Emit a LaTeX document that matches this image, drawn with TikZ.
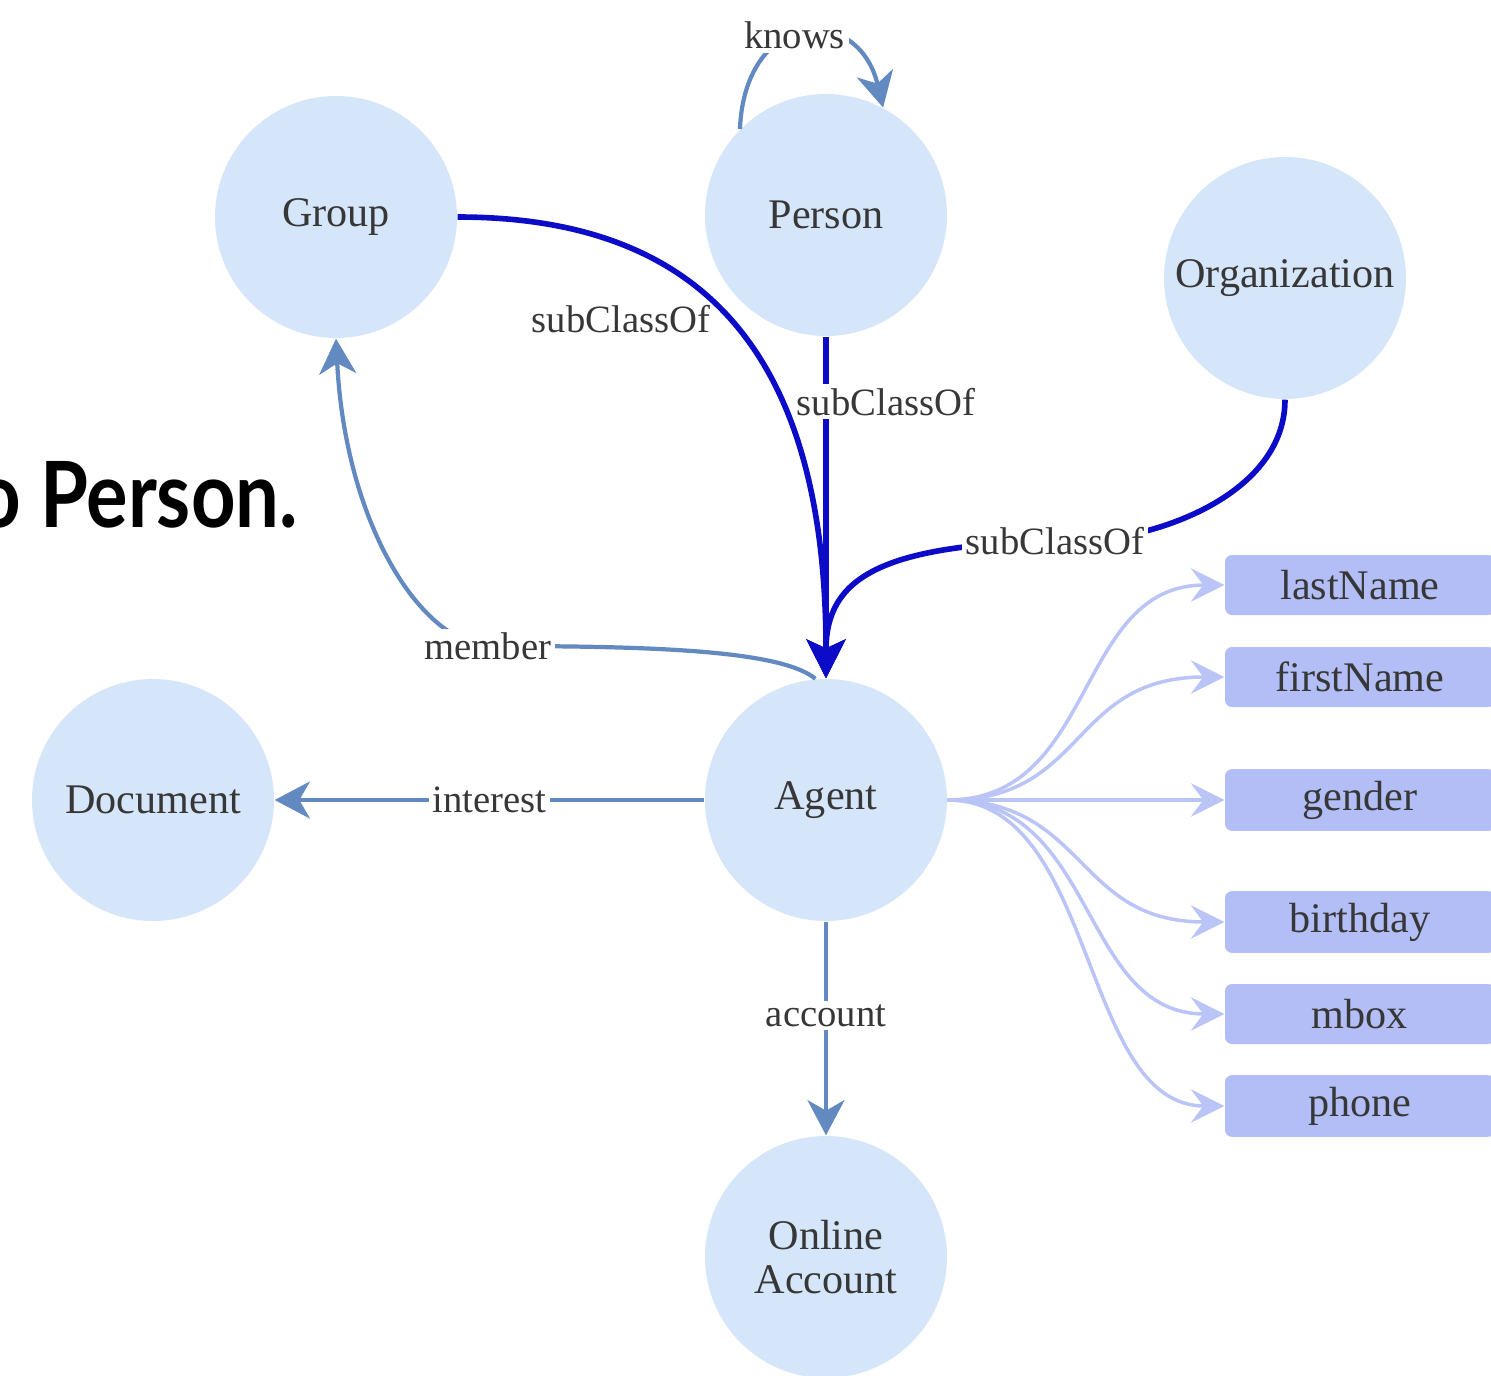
\documentclass[tikz,border=0pt]{standalone}
\usepackage{fontspec}
\setmainfont{Liberation Serif}
\newfontfamily\headfont[FakeStretch=0.85]{Lato}
\usetikzlibrary{arrows.meta, positioning, calc}

\definecolor{classfill}{RGB}{214,230,250}
\definecolor{propfill}{RGB}{178,190,245}
\definecolor{propline}{RGB}{186,196,246}
\definecolor{subblue}{RGB}{12,12,200}
\definecolor{steel}{RGB}{98,138,192}
\definecolor{txtgray}{RGB}{55,55,55}

\begin{document}
\begin{tikzpicture}[
		class/.style={circle, fill=classfill, minimum size=2.42cm, inner sep=0pt, text=txtgray, font=\fontsize{12}{12.5}\selectfont, align=center},
		prop/.style={rectangle, rounded corners=2pt, fill=propfill, minimum width=2.7cm, minimum height=0.6cm, text=txtgray, font=\fontsize{12}{14}\selectfont},
		lbl/.style={text=txtgray, font=\fontsize{11}{13}\selectfont, inner sep=1pt},
		sub/.style={subblue, line width=1.6pt, -{Stealth[length=11pt, width=11pt, inset=2.5pt]}},
		rel/.style={steel, line width=1.2pt, -{Stealth[length=10pt, width=10.5pt, inset=3pt]}},
		has/.style={propline, line width=1pt, -{Stealth[length=9.5pt, width=9.5pt, inset=3.5pt]}}
	]
		
		\useasboundingbox (0,0) rectangle (14.91,-13.76);
		
		% Caption fragment
		\node[font=\headfont\bfseries\fontsize{26}{30}\selectfont, anchor=base west, inner sep=0pt] (caption) at (-0.24,-5.27) {o Person.};
		
		% Classes
		\node[class] (group) at (3.36,-2.17) {Group};
		\node[class] (person) at (8.26,-2.15) {Person};
		\node[class] (organization) at (12.85,-2.78) {Organization};
		\node[class] (agent) at (8.26,-8.00) {Agent};
		\node[class] (document) at (1.53,-8.00) {Document};
		\node[class] (online) at (8.26,-12.57) {Online\\Account};
		
		% Properties
		\foreach \name/\y in {lastName/5.85, firstName/6.77, gender/8.00, birthday/9.22, mbox/10.14, phone/11.06}
		\node[prop] (\name) at (13.6,-\y) {\name};
		
		% Agent to properties
		\foreach \name/\a/\b in {lastName/1.5/1.5, firstName/1.4/1.55, birthday/1.4/1.5, mbox/1.5/1.45, phone/1.5/1.45}
		\draw[has] (agent.east) .. controls +(\a,0) and +(-\b,0) .. (\name.west);
		\draw[has] (agent.east) -- (gender.west);
		
		% subClassOf
		\coordinate (orgbend) at (10.55,-5.41);
		\draw[sub] (group.east) .. controls +(2.4,0) and +(0,3.3) .. node[lbl, pos=0.46, anchor=east, yshift=-0.12cm] {subClassOf} (agent.north);
		\draw[sub] (person.south) -- node[lbl, fill=white, pos=0.19, xshift=0.6cm] {subClassOf} (agent.north);
		\draw[sub] (organization.south) .. controls +(0,-1.0) and +(0.85,-0.06) .. (orgbend) node[lbl, fill=white] {subClassOf} .. controls +(-1.75,-0.04) and +(0,1.0) .. (agent.north);
		
		% Other relations
		\coordinate (memberbend) at (4.88,-6.46);
		\draw[rel] (person.135) .. controls +(0.05,1.2) and +(-0.25,1.05) .. node[lbl, fill=white, pos=0.45] {knows} (person.62);
		\draw[rel] (agent.95) .. controls +(-0.35,0.29) and +(1.6,0) .. (memberbend) node[lbl, fill=white] {member} .. controls +(-0.7,0.05) and +(0.09,-1.81) .. (group.south);
		\draw[rel] (agent.west) -- node[lbl, fill=white, pos=0.5] {interest} (document.east);
		\draw[rel] (agent.south) -- node[lbl, fill=white, pos=0.44] {account} (online.north);
		
	\end{tikzpicture}
\end{document}
